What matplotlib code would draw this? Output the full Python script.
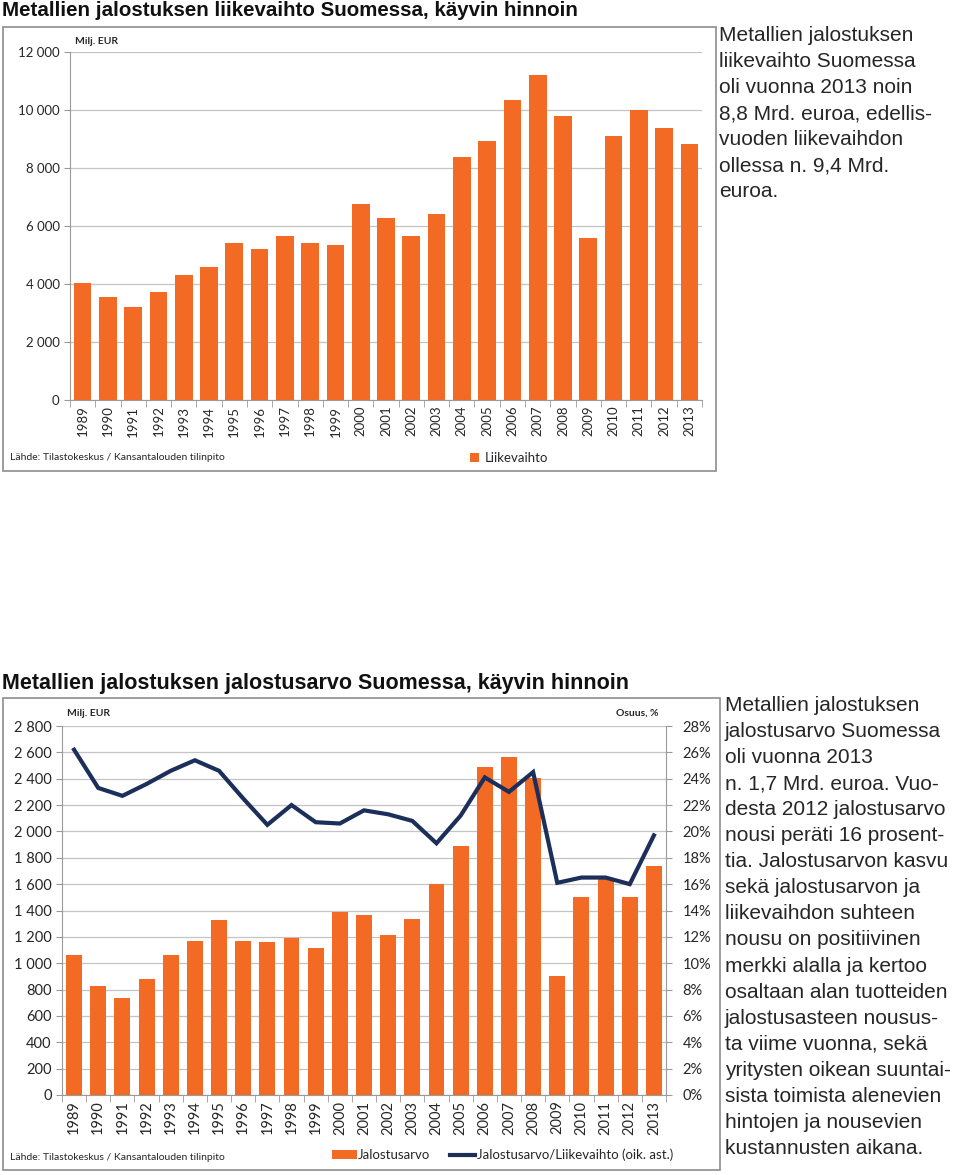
import numpy as np
import matplotlib
matplotlib.use("Agg")
import matplotlib.pyplot as plt
from matplotlib.patches import Rectangle
from matplotlib.ticker import FuncFormatter, MultipleLocator, FixedLocator

years = [str(y) for y in range(1989, 2014)]

# Liikevaihto, milj. EUR
liikevaihto = [4040, 3560, 3220, 3720, 4300, 4570, 5400, 5190, 5650, 5410, 5350,
               6750, 6280, 5670, 6430, 8370, 8920, 10330, 11190, 9790, 5600,
               9090, 10000, 9390, 8840]

# Jalostusarvo, milj. EUR
jalostusarvo = [1060, 830, 733, 880, 1060, 1166, 1328, 1166, 1158, 1194, 1113,
                1391, 1363, 1217, 1338, 1601, 1892, 2486, 2567, 2405, 903,
                1502, 1637, 1502, 1738]

# Jalostusarvo / Liikevaihto, %
osuus = [26.2, 23.3, 22.7, 23.6, 24.6, 25.4, 24.6, 22.5, 20.5, 22.0, 20.7,
         20.6, 21.6, 21.3, 20.8, 19.1, 21.2, 24.1, 23.0, 24.5, 16.1,
         16.5, 16.5, 16.0, 19.7]

text_top = ("Metallien jalostuksen\nliikevaihto Suomessa\noli vuonna 2013 noin\n"
            "8,8 Mrd. euroa, edellis-\nvuoden liikevaihdon\nollessa n. 9,4 Mrd.\neuroa.")
text_bottom = ("Metallien jalostuksen\njalostusarvo Suomessa\noli vuonna 2013\n"
               "n. 1,7 Mrd. euroa. Vuo-\ndesta 2012 jalostusarvo\nnousi peräti 16 prosent-\n"
               "tia. Jalostusarvon kasvu\nsekä jalostusarvon ja\nliikevaihdon suhteen\n"
               "nousu on positiivinen\nmerkki alalla ja kertoo\nosaltaan alan tuotteiden\n"
               "jalostusasteen nousus-\nta viime vuonna, sekä\nyritysten oikean suuntai-\n"
               "sista toimista alenevien\nhintojen ja nousevien\nkustannusten aikana.")

ORANGE = "#f26a24"
NAVY = "#1b2f5a"
GRID = "#c4c4c4"
TXT = "#262626"
FONT = ["Lato", "DejaVu Sans"]
HEAD = ["Liberation Sans", "DejaVu Sans"]

W, H = 960, 1175
fig = plt.figure(figsize=(W / 100, H / 100), dpi=100)


def rect(l, t, r, b):
    return [l / W, 1 - b / H, (r - l) / W, (b - t) / H]


def fx(x):
    return x / W


def fy(y):
    return 1 - y / H


def spaced(v, pos):
    return f"{int(round(v)):,}".replace(",", " ")


def style_axes(ax, fs):
    ax.set_facecolor("none")
    ax.grid(axis="y", color=GRID, lw=0.9, zorder=0)
    ax.set_axisbelow(True)
    for s in ["top", "right"]:
        ax.spines[s].set_visible(False)
    for s in ["left", "bottom"]:
        ax.spines[s].set_color("#9a9a9a")
    ax.tick_params(axis="y", colors="#9a9a9a", length=4, labelcolor=TXT, labelsize=fs)
    ax.tick_params(axis="x", which="major", length=0, labelcolor=TXT, labelsize=fs,
                   rotation=90, pad=4)
    ax.tick_params(axis="x", which="minor", length=5, colors="#9a9a9a")
    ax.xaxis.set_minor_locator(FixedLocator(np.arange(-0.5, len(years), 1)))
    for lab in ax.get_xticklabels() + ax.get_yticklabels():
        lab.set_family(FONT)


# frames
fig.patches.append(Rectangle((fx(3), fy(471)), fx(716) - fx(3), fy(27) - fy(471),
                             transform=fig.transFigure, fill=False, ec="#8c8c8c", lw=1.2))
fig.patches.append(Rectangle((fx(3), fy(1170)), fx(720) - fx(3), fy(698) - fy(1170),
                             transform=fig.transFigure, fill=False, ec="#8c8c8c", lw=1.2))

# ---- top chart ----
fig.text(fx(2), fy(10), "Metallien jalostuksen liikevaihto Suomessa, käyvin hinnoin",
         family=HEAD, weight="bold", fontsize=14.8, color="#111111", va="center")
ax1 = fig.add_axes(rect(70, 52, 702, 400))
x = np.arange(len(years))
b1 = ax1.bar(x, liikevaihto, width=0.7, color=ORANGE, zorder=2, label="Liikevaihto")
ax1.set_xlim(-0.5, len(years) - 0.5)
ax1.set_ylim(0, 12000)
ax1.yaxis.set_major_locator(MultipleLocator(2000))
ax1.yaxis.set_major_formatter(FuncFormatter(spaced))
ax1.set_xticks(x)
ax1.set_xticklabels(years)
style_axes(ax1, 9.5)
fig.text(fx(75), fy(41), "Milj. EUR", family=FONT, weight="bold", fontsize=7.5,
         color=TXT, va="center")
fig.text(fx(10), fy(458), "Lähde: Tilastokeskus / Kansantalouden tilinpito", family=FONT,
         fontsize=7.5, color=TXT, va="center")
fig.legend(handles=[b1], loc="center left", bbox_to_anchor=(fx(458), fy(458)),
           frameon=False, prop={"family": FONT, "size": 9.5}, handlelength=0.7,
           handleheight=0.7, handletextpad=0.4, labelcolor=TXT)
fig.text(fx(719), fy(26), text_top, family=HEAD, fontsize=15, color=TXT,
         va="top", linespacing=1.47)

# ---- bottom chart ----
fig.text(fx(2), fy(683), "Metallien jalostuksen jalostusarvo Suomessa, käyvin hinnoin",
         family=HEAD, weight="bold", fontsize=15.5, color="#111111", va="center")
ax2 = fig.add_axes(rect(62, 726, 666, 1095))
b2 = ax2.bar(x, jalostusarvo, width=0.66, color=ORANGE, zorder=2, label="Jalostusarvo")
ax2.set_xlim(-0.5, len(years) - 0.5)
ax2.set_ylim(0, 2800)
ax2.yaxis.set_major_locator(MultipleLocator(200))
ax2.yaxis.set_major_formatter(FuncFormatter(spaced))
ax2.set_xticks(x)
ax2.set_xticklabels(years)
style_axes(ax2, 10.5)

ax3 = ax2.twinx()
ax3.set_ylim(0, 28)
ax3.yaxis.set_major_locator(MultipleLocator(2))
ax3.yaxis.set_major_formatter(FuncFormatter(lambda v, p: f"{int(round(v))}%"))
l3, = ax3.plot(x, osuus, color=NAVY, lw=3, zorder=3, solid_joinstyle="miter",
               label="Jalostusarvo/Liikevaihto (oik. ast.)")
for s in ["top", "left", "bottom"]:
    ax3.spines[s].set_visible(False)
ax3.spines["right"].set_color("#9a9a9a")
ax3.tick_params(axis="y", colors="#9a9a9a", length=4, labelcolor=TXT, labelsize=10.5, pad=8)
for lab in ax3.get_yticklabels():
    lab.set_family(FONT)

fig.text(fx(67), fy(713), "Milj. EUR", family=FONT, weight="bold", fontsize=7.5,
         color=TXT, va="center")
fig.text(fx(658), fy(713), "Osuus, %", family=FONT, weight="bold", fontsize=7.5,
         color=TXT, va="center", ha="right")
fig.text(fx(10), fy(1158), "Lähde: Tilastokeskus / Kansantalouden tilinpito", family=FONT,
         fontsize=7.5, color=TXT, va="center")
fig.legend(handles=[b2, l3], loc="center left", bbox_to_anchor=(fx(320), fy(1155)),
           ncol=2, frameon=False, prop={"family": FONT, "size": 9.5}, handlelength=1.9,
           handleheight=0.6, handletextpad=0.1, columnspacing=1.5, labelcolor=TXT)
fig.text(fx(725), fy(696), text_bottom, family=HEAD, fontsize=15, color=TXT,
         va="top", linespacing=1.47)

fig.savefig("out.png", dpi=100)
